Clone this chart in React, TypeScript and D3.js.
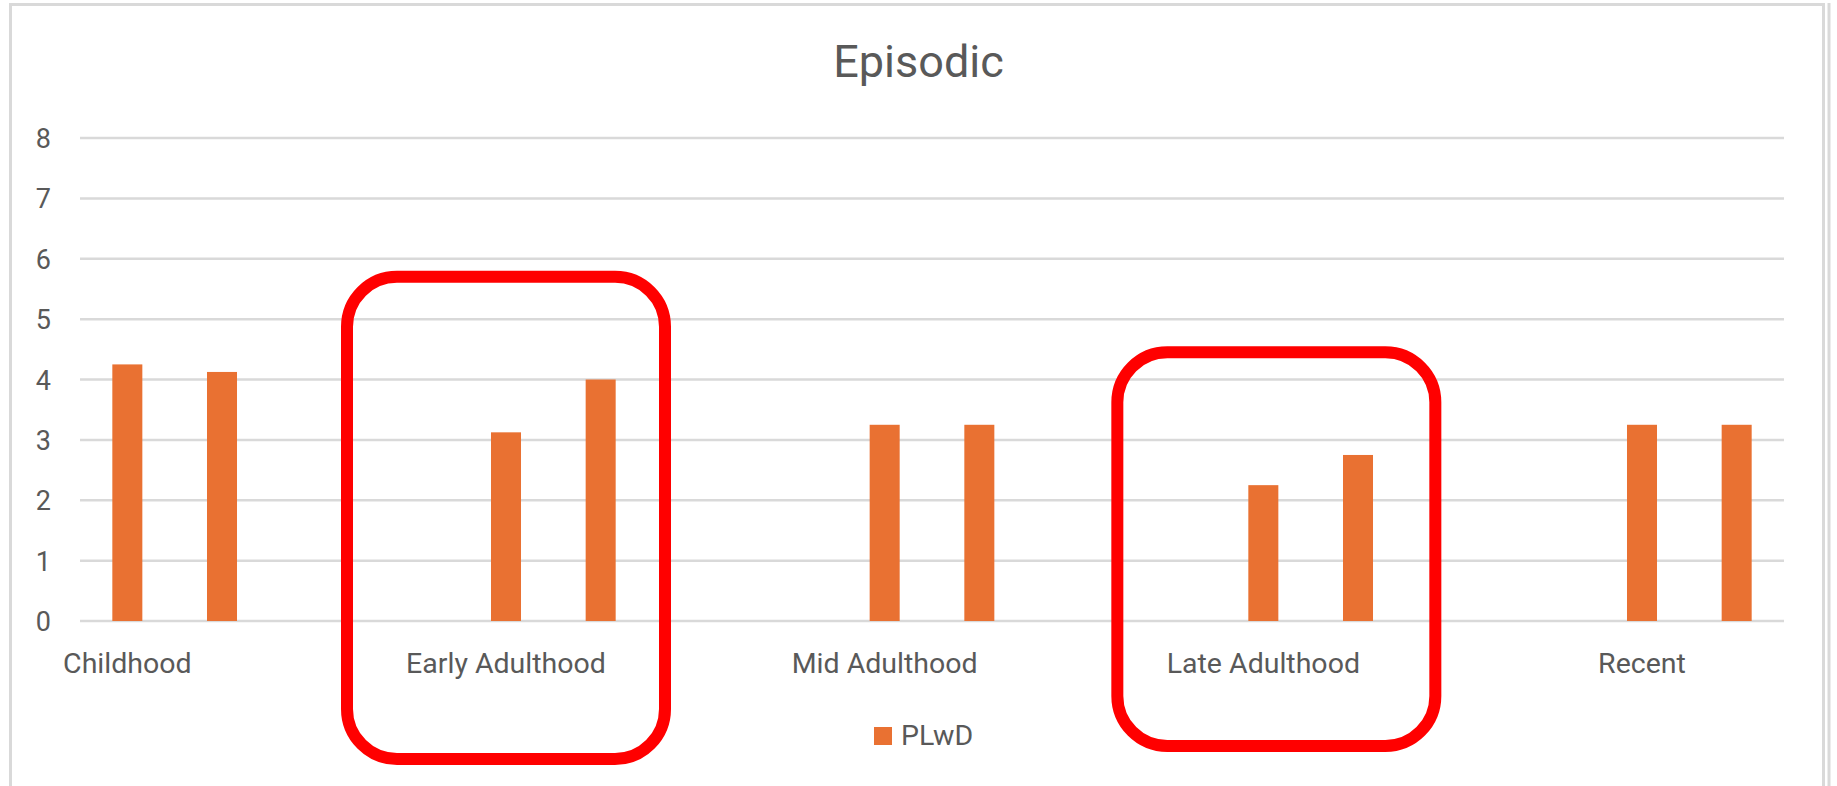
import React, { useEffect, useRef } from 'react';
import * as d3 from 'd3';

// 18 category slots; Excel only printed every 4th label
const categories = [
  'Childhood', '', '', '',
  'Early Adulthood', '', '', '',
  'Mid Adulthood', '', '', '',
  'Late Adulthood', '', '', '',
  'Recent', '',
];

const plwd: (number | null)[] = [
  4.25, 4.125, null, null,
  3.125, 4.0, null, null,
  3.25, 3.25, null, null,
  2.25, 2.75, null, null,
  3.25, 3.25,
];

const yTicks = [0, 1, 2, 3, 4, 5, 6, 7, 8];
const seriesName = 'PLwD';
const chartTitle = 'Episodic';

// red call-out boxes, anchored on a category slot
const highlights = [
  { slot: 4, dx: 0, top: 5.7, bottomPx: 759 },
  { slot: 12, dx: 13, top: 4.45, bottomPx: 746 },
];

export default function App() {
  const ref = useRef<SVGSVGElement>(null);

  useEffect(() => {
    if (!ref.current) return;
    const svg = d3.select(ref.current);
    svg.selectAll('*').remove();

    const W = 1837;
    const H = 786;
    const left = 80, right = 1784, top = 138, bottom = 621;
    const font = 'Roboto, "Open Sans", sans-serif';
    const textColor = '#595959';
    const orange = '#E97132';

    const ids = categories.map((_, i) => String(i));

    const x = d3.scaleBand<string>()
      .domain(ids)
      .range([left, right])
      .paddingInner(0.683)
      .paddingOuter(0.3415);

    const y = d3.scaleLinear().domain([0, 8]).range([bottom, top]);

    svg.append('rect')
      .attr('width', W).attr('height', H).attr('fill', '#fff');

    // outer chart border
    svg.append('rect')
      .attr('x', 10.5).attr('y', 4.5)
      .attr('width', 1813).attr('height', 820)
      .attr('fill', 'none').attr('stroke', '#d9d9d9').attr('stroke-width', 3);
    svg.append('line')
      .attr('x1', 1829).attr('x2', 1829).attr('y1', 3).attr('y2', H)
      .attr('stroke', '#d9d9d9').attr('stroke-width', 3);

    // title
    svg.append('text')
      .attr('x', W / 2).attr('y', 77)
      .attr('text-anchor', 'middle')
      .attr('font-family', font).attr('font-size', 45)
      .attr('fill', textColor)
      .text(chartTitle);

    // gridlines
    svg.append('g')
      .selectAll('line')
      .data(yTicks)
      .enter().append('line')
      .attr('x1', left).attr('x2', right)
      .attr('y1', d => y(d)).attr('y2', d => y(d))
      .attr('stroke', '#d9d9d9').attr('stroke-width', 2.5);

    // y tick labels
    svg.append('g')
      .selectAll('text')
      .data(yTicks)
      .enter().append('text')
      .attr('x', 51)
      .attr('y', d => y(d) + 10)
      .attr('text-anchor', 'end')
      .attr('font-family', font).attr('font-size', 27)
      .attr('fill', textColor)
      .text(d => String(d));

    // bars
    svg.append('g')
      .selectAll('rect')
      .data(plwd.map((v, i) => ({ id: ids[i], v })).filter(d => d.v !== null))
      .enter().append('rect')
      .attr('x', d => x(d.id)!)
      .attr('width', x.bandwidth())
      .attr('y', d => y(d.v as number))
      .attr('height', d => bottom - y(d.v as number))
      .attr('fill', orange);

    // category labels
    svg.append('g')
      .selectAll('text')
      .data(categories.map((c, i) => ({ id: ids[i], c })).filter(d => d.c !== ''))
      .enter().append('text')
      .attr('x', d => x(d.id)! + x.bandwidth() / 2)
      .attr('y', 673)
      .attr('text-anchor', 'middle')
      .attr('font-family', font).attr('font-size', 28.5)
      .attr('fill', textColor)
      .text(d => d.c);

    // legend
    const lg = svg.append('g');
    lg.append('rect')
      .attr('x', 874).attr('y', 727).attr('width', 18).attr('height', 18)
      .attr('fill', orange);
    lg.append('text')
      .attr('x', 901).attr('y', 745)
      .attr('font-family', font).attr('font-size', 28.5)
      .attr('fill', textColor)
      .text(seriesName);

    // call-out boxes
    const boxW = 318;
    svg.append('g')
      .selectAll('rect')
      .data(highlights)
      .enter().append('rect')
      .attr('x', d => x(ids[d.slot])! + x.bandwidth() / 2 + d.dx - boxW / 2)
      .attr('y', d => y(d.top))
      .attr('width', boxW)
      .attr('height', d => d.bottomPx - y(d.top))
      .attr('rx', 50).attr('ry', 50)
      .attr('fill', 'none')
      .attr('stroke', '#ff0000')
      .attr('stroke-width', 12);
  }, []);

  return (
    <svg
      ref={ref}
      width={1837}
      height={786}
      style={{ position: 'absolute', left: 0, top: 0, display: 'block' }}
    />
  );
}
